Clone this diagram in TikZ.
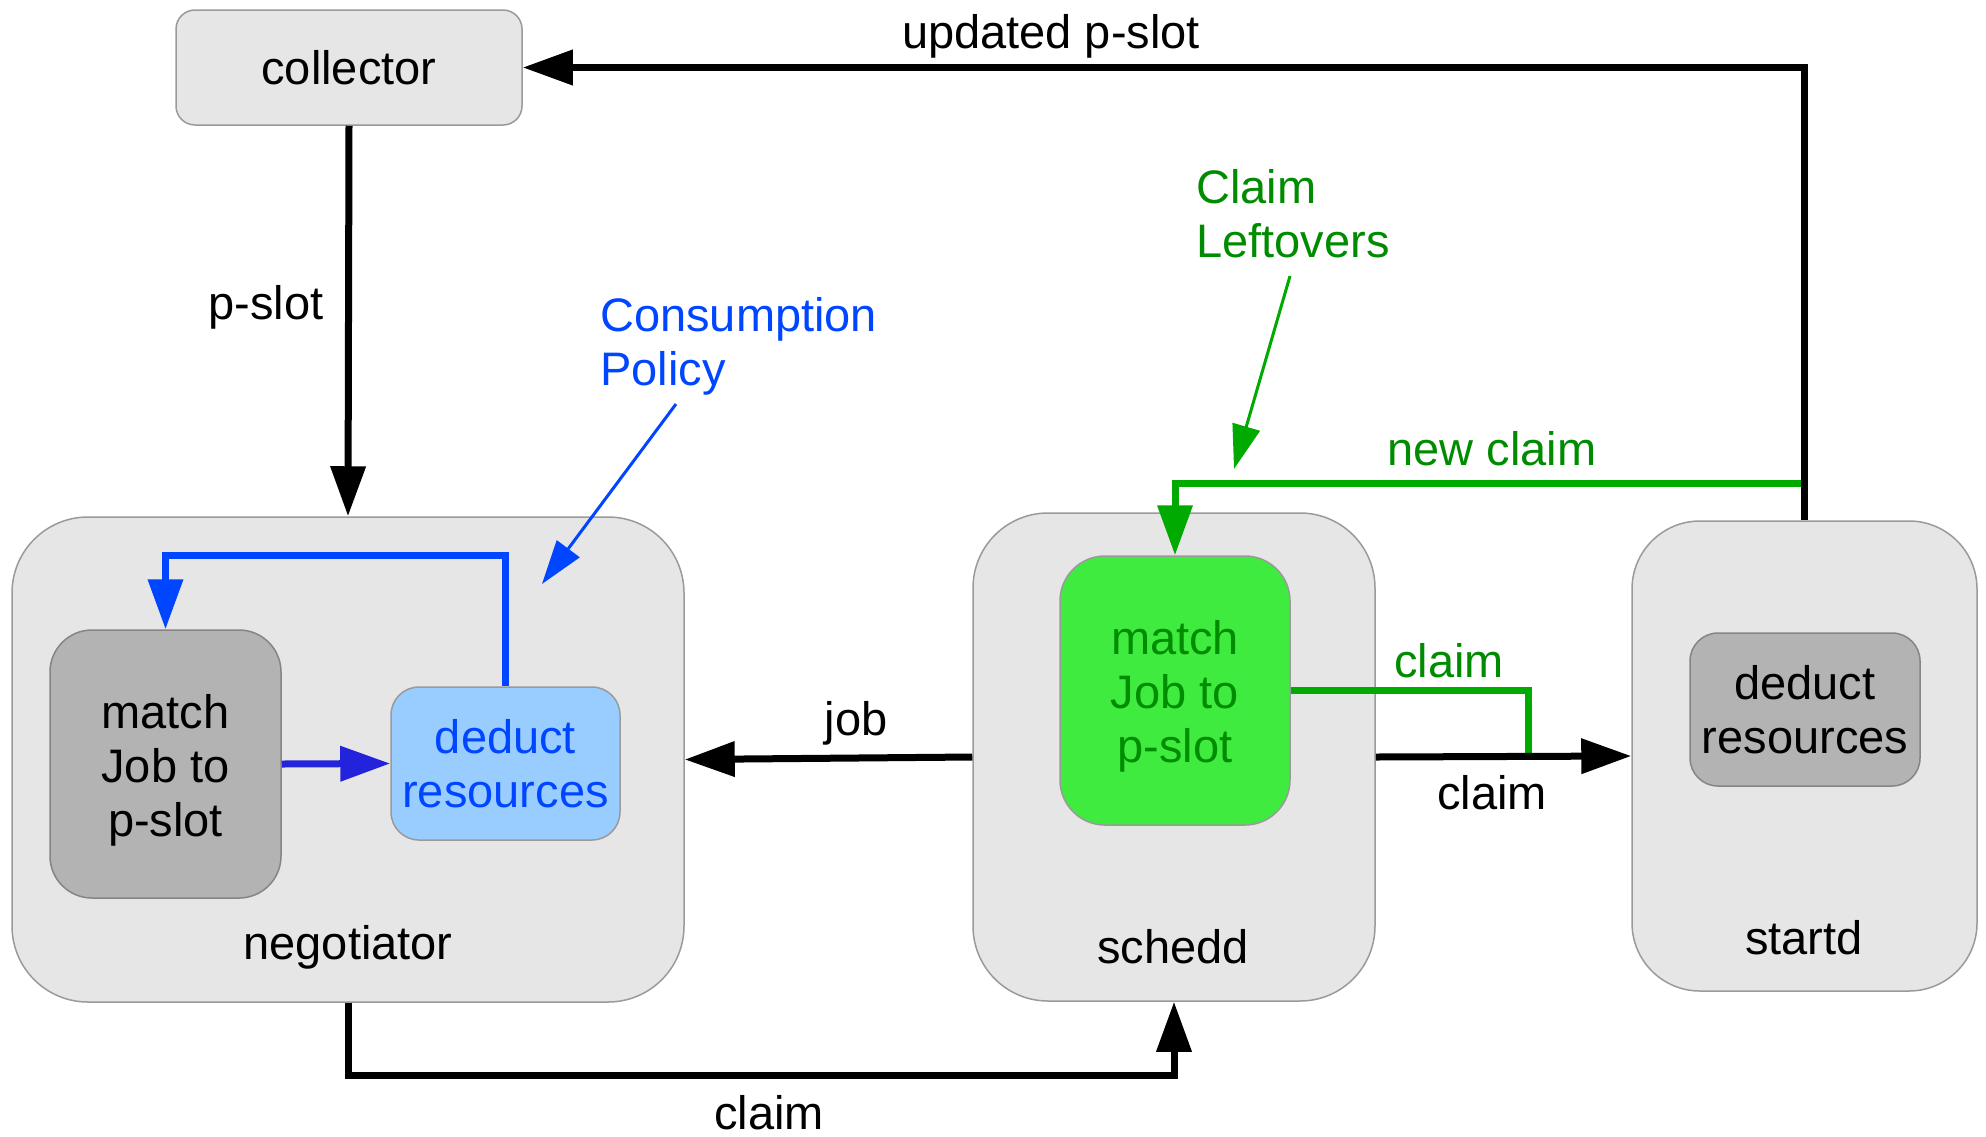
\documentclass[tikz,border=0pt]{standalone}
\usepackage{fontspec}
\setmainfont{Liberation Sans}
\usetikzlibrary{arrows.meta}

\definecolor{boxgray}{HTML}{E6E6E6}
\definecolor{boxline}{HTML}{9A9A9A}
\definecolor{midgray}{HTML}{B3B3B3}
\definecolor{midline}{HTML}{858585}
\definecolor{skyblue}{HTML}{99CCFF}
\definecolor{policyblue}{HTML}{0045FF}
\definecolor{flowindigo}{HTML}{2323DC}
\definecolor{matchgreen}{HTML}{40EB40}
\definecolor{linegreen}{HTML}{00AA00}
\definecolor{textgreen}{HTML}{008C00}

% taller first line, so three-line texts sit a little lower in their boxes
\newcommand{\firstlinestrut}{\rule{0pt}{46pt}}

\begin{document}
\begin{tikzpicture}[x=1pt, y=-1pt,
  every node/.style={font=\fontsize{47}{54}\selectfont, inner sep=0pt},
  daemon/.style={draw=boxline, fill=boxgray, line width=1.5pt},
  inner/.style={draw=midline, fill=midgray, line width=1.5pt, align=center},
  lbl/.style={text=black},
  flow/.style={line width=7pt, -{Triangle[length=50pt,width=34pt]}},
  flowplain/.style={line width=7pt},
  note/.style={line width=3pt, -{Triangle[length=44pt,width=28pt]}}
]
\useasboundingbox (0,0) rectangle (1986,1136);

% daemons
\node[daemon, minimum width=346pt, minimum height=115pt, rounded corners=19pt]
  (collector) at (349,67.5) {collector};
\node[daemon, minimum width=672pt, minimum height=485pt, rounded corners=76pt]
  (negotiator) at (348,759.5) {};
\node[daemon, minimum width=402pt, minimum height=488pt, rounded corners=75pt]
  (schedd) at (1174,757) {};
\node[daemon, minimum width=345pt, minimum height=470pt, rounded corners=68pt]
  (startd) at (1804.5,756) {};

\node[lbl] (negname) at (348,947) {negotiator};
\node[lbl] (schedname) at (1173,947) {schedd};
\node[lbl] (startname) at (1804,938) {startd};

% inner steps
\node[inner, minimum width=231pt, minimum height=268pt, rounded corners=42pt]
  (match) at (165.5,764) {\firstlinestrut match\\Job to\\p-slot};
\node[inner, draw=boxline, fill=skyblue, text=policyblue, minimum width=229pt,
  minimum height=153pt, rounded corners=28pt]
  (deduct) at (505.5,763.5) {deduct\\resources};
\node[inner, draw=boxline, fill=matchgreen, text=textgreen, minimum width=230pt,
  minimum height=269pt, rounded corners=45pt]
  (gmatch) at (1175,690.5) {\firstlinestrut match\\Job to\\p-slot};
\node[inner, minimum width=230pt, minimum height=153pt, rounded corners=28pt]
  (sdeduct) at (1805,709.5) {deduct\\resources};

% annotations
\node[text=policyblue, align=left, anchor=west] (policy) at (600,346)
  {Consumption\\Policy};
\node[text=textgreen, align=left, anchor=west] (leftovers) at (1196,214)
  {Claim\\Leftovers};
\coordinate (policyfrom) at (676,404);
\coordinate (policyto) at (542,584);
\coordinate (leftfrom) at (1290,276);
\coordinate (leftto) at (1234,469);
\draw[note, policyblue] (policyfrom) -- (policyto);
\draw[note, linegreen] (leftfrom) -- (leftto);

% negotiator internals
\draw[flow, policyblue] (deduct.north) -- ++(0,-131) -| (match.north);
\draw[flow, flowindigo] (match.east) -- (deduct.west);

% green claim paths
\coordinate (newclaimstart) at (1805,483);
\coordinate (claimjoin) at (1528,754);
\draw[flow, linegreen] (newclaimstart) -| (gmatch.north);
\draw[flowplain, linegreen] (gmatch.east) -| (claimjoin);

% black message flows
\draw[flow] (collector.south) -- (negotiator.north);
\draw[flow] (startd.north) |- (collector.east);
\draw[flow] (schedd.west) -- (negotiator.east);
\draw[flow] (negotiator.south) -- ++(0,73) -| (schedd.south);
\draw[flow] (schedd.east) -- (startd.west);

% flow labels
\node[lbl] (updlabel) at (1051,36) {updated p-slot};
\node[lbl] (pslotlabel) at (266,307) {p-slot};
\node[lbl] (joblabel) at (856,723) {job};
\node[lbl] (claimlow) at (769,1113) {claim};
\node[lbl] (claimright) at (1492,793) {claim};
\node[text=textgreen] (newclaimlabel) at (1492,449) {new claim};
\node[text=textgreen] (claimgreen) at (1449,661) {claim};
\end{tikzpicture}
\end{document}
